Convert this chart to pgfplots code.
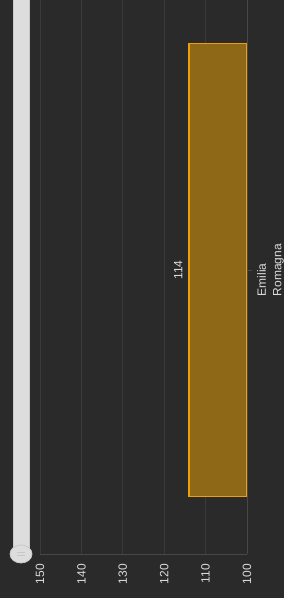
\documentclass[border=0pt]{standalone}
\usepackage{fontspec}
\setmainfont{Liberation Sans}
\usepackage{pgfplots}
\pgfplotsset{compat=1.18}
\definecolor{bg}{RGB}{42,42,42}
\definecolor{gridc}{RGB}{58,58,58}
\definecolor{axc}{RGB}{72,72,72}
\definecolor{barfill}{RGB}{142,104,22}
\definecolor{barline}{RGB}{238,160,10}
\definecolor{txt}{RGB}{220,220,220}
\definecolor{slider}{RGB}{221,221,221}
\definecolor{sliderb}{RGB}{200,200,200}
\begin{document}
\begin{tikzpicture}[x=1pt,y=1pt]
\fill[bg] (0,0) rectangle (284,598);
\useasboundingbox (0,0) rectangle (284,598);
\begin{axis}[
  at={(40pt,44pt)}, anchor=south west,
  width=207pt, height=554pt, scale only axis,
  xbar, bar width=453pt,
  x dir=reverse,
  xmin=100, xmax=150,
  ymin=0, ymax=554,
  xtick={100,110,120,130,140,150},
  ytick={284},
  yticklabels={{Emilia\\Romagna}},
  axis x line*=bottom,
  axis y line*=right,
  axis line style={draw=axc},
  xmajorgrids, grid style={draw=gridc, line width=0.8pt},
  xtick style={draw=none},
  ytick style={draw=axc},
  tick align=outside,
  major tick length=5pt,
  /pgf/number format/assume math mode=true,
  font=\fontsize{12}{15.5}\selectfont,
  xticklabel style={rotate=90, anchor=east, text=txt, inner sep=5pt},
  yticklabel style={rotate=90, anchor=north, text=txt, align=left, inner sep=5pt},
  nodes near coords,
  every node near coord/.append style={rotate=90, anchor=south, text=txt, inner sep=6pt, font=\fontsize{12}{14}\selectfont},
]
\addplot[fill=barfill, draw=barline, line width=1.5pt] coordinates {(114,284)};
\end{axis}
\fill[slider, draw=sliderb, line width=0.6pt] (13,44) rectangle (29,600);
\filldraw[fill=slider, draw=sliderb, line width=0.8pt] (21,44) ellipse (11 and 9);
\draw[sliderb, line width=0.6pt] (17,45.5) -- (25,45.5) (17,42.5) -- (25,42.5);
\end{tikzpicture}
\end{document}
